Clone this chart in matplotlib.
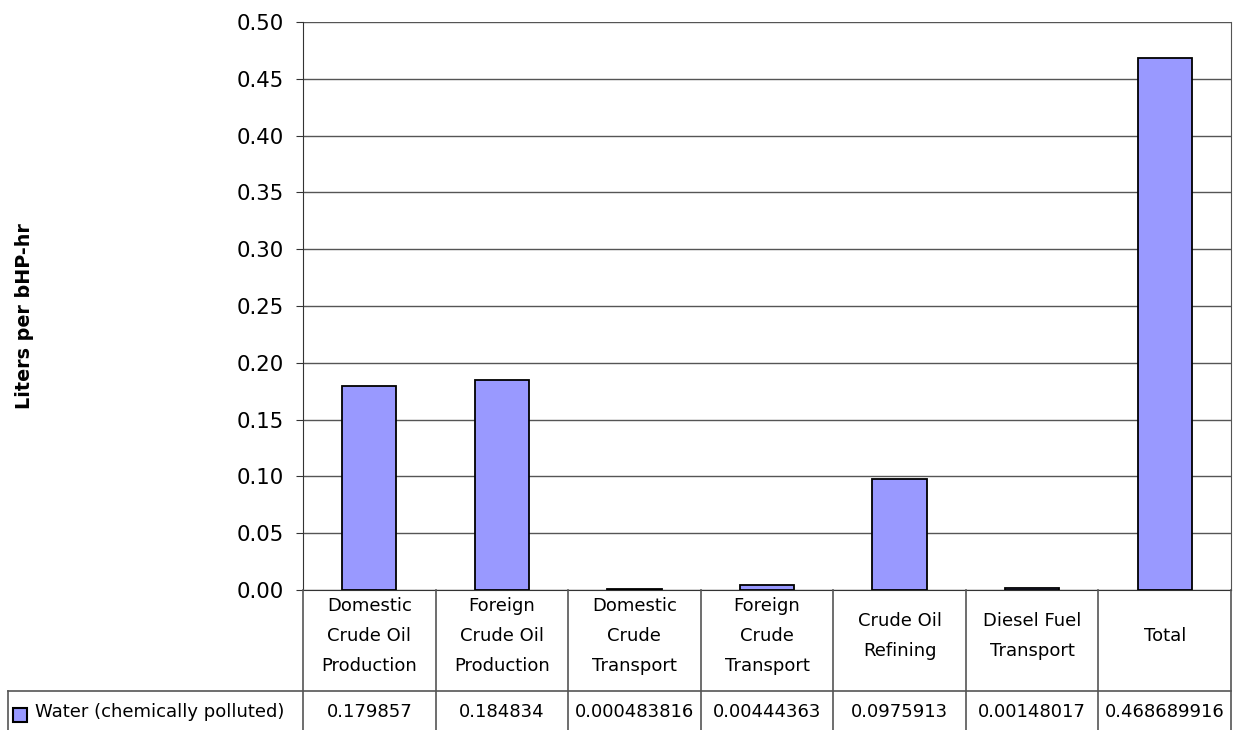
import matplotlib.pyplot as plt
from matplotlib.lines import Line2D
from matplotlib.patches import Rectangle

categories = ["Domestic\nCrude Oil\nProduction", "Foreign\nCrude Oil\nProduction",
              "Domestic\nCrude\nTransport", "Foreign\nCrude\nTransport",
              "Crude Oil\nRefining", "Diesel Fuel\nTransport", "Total"]
values = [0.179857, 0.184834, 0.000483816, 0.00444363, 0.0975913, 0.00148017, 0.468689916]
value_labels = ["0.179857", "0.184834", "0.000483816", "0.00444363",
                "0.0975913", "0.00148017", "0.468689916"]
series_name = "Water (chemically polluted)"
yticks = [0.0, 0.05, 0.10, 0.15, 0.20, 0.25, 0.30, 0.35, 0.40, 0.45, 0.50]

plt.rcParams['font.family'] = ['DejaVu Sans']

W, H = 1239, 730
fig = plt.figure(figsize=(W / 100, H / 100), dpi=100)
L, R, T, B = 303, 1231, 22, 590
ax = fig.add_axes([L / W, 1 - B / H, (R - L) / W, (B - T) / H])

bar_color = "#9999ff"
x = range(len(categories))
ax.bar(x, values, width=0.41, color=bar_color, edgecolor="black", linewidth=1.3, zorder=3)
ax.set_xlim(-0.5, len(categories) - 0.5)
ax.set_ylim(0, 0.5)
ax.set_yticks(yticks)
ax.set_yticklabels([f"{v:.2f}" for v in yticks], fontsize=15.3)
ax.yaxis.grid(True, color="#555555", linewidth=1.0, zorder=0)
ax.set_xticks([])
ax.tick_params(axis="y", length=5, color="#333333", pad=9)
ax.spines["top"].set_visible(False)
ax.spines["left"].set_color("#333333")
ax.spines["right"].set_color("#555555")
ax.spines["bottom"].set_color("#333333")

# pixel helpers for figure-level artists
def fx(px):
    return px / W

def fy(py):
    return 1 - py / H

fig.text(fx(24.5), fy(316), "Liters per bHP-hr", rotation=90, ha="center", va="center",
         fontsize=13.8, fontweight="bold")

# data table below the axes
row1, row2, row3 = 590, 691, 730
col_w = (R - L) / len(categories)
lc = "#555555"
lines = []
for i in range(len(categories) + 1):
    xx = L + i * col_w
    lines.append(((xx, xx), (row1, row3)))
lines.append(((8, R), (row2, row2)))
lines.append(((8, 8), (row2, row3)))
for (xs, ys) in lines:
    fig.add_artist(Line2D([fx(xs[0]), fx(xs[1])], [fy(ys[0]), fy(ys[1])],
                          color=lc, linewidth=1.2, transform=fig.transFigure))

for i, (cat, lab) in enumerate(zip(categories, value_labels)):
    cx = L + (i + 0.5) * col_w
    fig.text(fx(cx), fy(636), cat, ha="center", va="center",
             fontsize=13, linespacing=1.85)
    fig.text(fx(cx), fy(712), lab, ha="center", va="center", fontsize=13)

fig.add_artist(Rectangle((fx(13), fy(722)), 14 / W, 14 / H, facecolor=bar_color,
                         edgecolor="black", linewidth=1.5, transform=fig.transFigure))
fig.text(fx(35), fy(712), series_name, ha="left", va="center", fontsize=13)

fig.savefig("out.png", dpi=100)
